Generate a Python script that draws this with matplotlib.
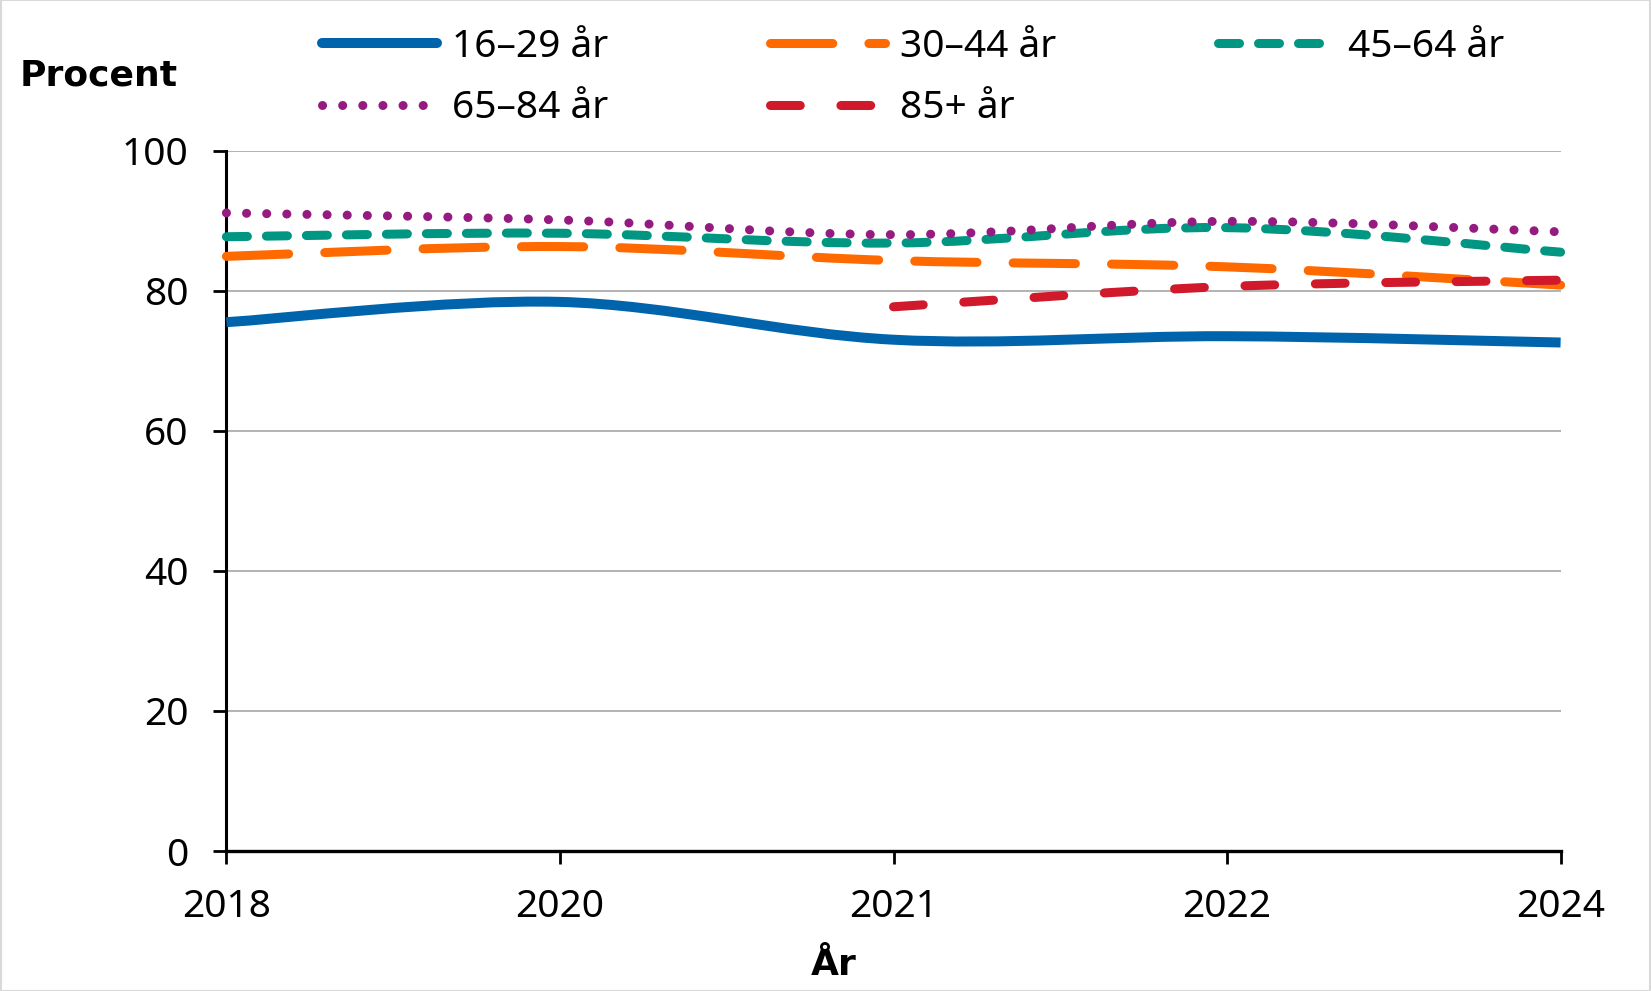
import numpy as np
import matplotlib
matplotlib.use("Agg")
import matplotlib.pyplot as plt
from matplotlib.path import Path
from matplotlib.patches import PathPatch, Rectangle
from matplotlib.lines import Line2D

plt.rcParams['font.family'] = ['Noto Sans', 'DejaVu Sans']

# ---- data ----
years = ["2018", "2020", "2021", "2022", "2024"]
labels = ["16–29 år", "30–44 år", "45–64 år", "65–84 år", "85+ år"]
v_16_29 = [75.5, 78.4, 73.0, 73.5, 72.6]
v_30_44 = [84.9, 86.3, 84.3, 83.4, 80.8]
v_45_64 = [87.7, 88.2, 86.8, 89.0, 85.5]
v_65_84 = [91.1, 90.1, 88.0, 89.9, 88.4]
v_85 = [np.nan, np.nan, 77.7, 80.6, 81.5]
yticks = [0, 20, 40, 60, 80, 100]

series = [v_16_29, v_30_44, v_45_64, v_65_84, v_85]
colors = ["#0064AD", "#FF6A00", "#009682", "#951B81", "#D0192A"]
lws = [7.2, 6.5, 6.5, 6.5, 6.5]
styles = ["solid", (0, (6.9, 4.0)), (0, (2.33, 2.1)), (0, (0.01, 2.22)), (0, (3.3, 4.5))]
caps = ["butt", "round", "round", "round", "round"]

W, H = 1651, 991
fig = plt.figure(figsize=(W / 100, H / 100), dpi=100)
ax = fig.add_axes([226.4 / W, 1 - 851 / H, (1560.6 - 226.4) / W, (851 - 150.6) / H])


def smooth_path(xs, ys):
    pts = [np.array([x, y], float) for x, y in zip(xs, ys) if not np.isnan(y)]
    n = len(pts)
    verts = [pts[0]]
    codes = [Path.MOVETO]
    for i in range(n - 1):
        p_prev = pts[i - 1] if i > 0 else pts[i]
        p_next2 = pts[i + 2] if i + 2 < n else pts[i + 1]
        c1 = pts[i] + (pts[i + 1] - p_prev) / 6.0
        c2 = pts[i + 1] - (p_next2 - pts[i]) / 6.0
        verts += [c1, c2, pts[i + 1]]
        codes += [Path.CURVE4] * 3
    return Path(np.array(verts), codes)


x = np.arange(len(years))
for vals, c, lw, ls, cap in zip(series, colors, lws, styles, caps):
    p = smooth_path(x, vals)
    patch = PathPatch(p, facecolor="none", edgecolor=c, lw=lw, linestyle=ls,
                      capstyle=cap, joinstyle="round", clip_on=False, zorder=3)
    ax.add_patch(patch)

ax.set_xlim(0, len(years) - 1)
ax.set_ylim(0, 100)
ax.set_xticks(x)
ax.set_xticklabels(years)
ax.set_yticks(yticks)
ax.set_yticklabels([str(t) for t in yticks])
ax.yaxis.grid(True, color="#A6A6A6", lw=1.2)
ax.set_axisbelow(True)
for s in ["top", "right"]:
    ax.spines[s].set_visible(False)
ax.spines["left"].set_linewidth(2.2)
ax.spines["bottom"].set_linewidth(2.4)
ax.tick_params(axis="both", direction="out", length=9.4, width=2.0, labelsize=28, colors="black")
ax.tick_params(axis="x", pad=17)
ax.tick_params(axis="y", pad=18)

# axis titles
fig.text(20 / W, 1 - 76 / H, "Procent", fontsize=26, fontweight="bold",
         family="DejaVu Sans", ha="left", va="center")
fig.text(834 / W, 1 - 975 / H, "År", fontsize=26, fontweight="bold",
         family="DejaVu Sans", ha="center", va="baseline")

# legend (manual, 3 columns x 2 rows)
text_x = [452, 900, 1348]
row_y = [43, 105]
row_base = [57, 118]
order = [(0, 0, 0), (1, 0, 1), (2, 0, 2), (3, 1, 0), (4, 1, 1)]
for idx, r, col in order:
    xs0 = text_x[col] - 130
    xs1 = text_x[col] - 15
    yy = 1 - row_y[r] / H
    ln = Line2D([xs0 / W, xs1 / W], [yy, yy], transform=fig.transFigure, color=colors[idx],
                lw=lws[idx], linestyle=styles[idx],
                dash_capstyle="round", solid_capstyle="round")
    fig.add_artist(ln)
    fig.text(text_x[col] / W, 1 - row_base[r] / H, labels[idx], fontsize=28,
             ha="left", va="baseline")

# outer border
fig.add_artist(Rectangle((0.0005, 0.0005), 0.999, 0.999, transform=fig.transFigure,
                         fill=False, edgecolor="#D9D9D9", lw=1.5))

fig.savefig("out.png", dpi=100)
